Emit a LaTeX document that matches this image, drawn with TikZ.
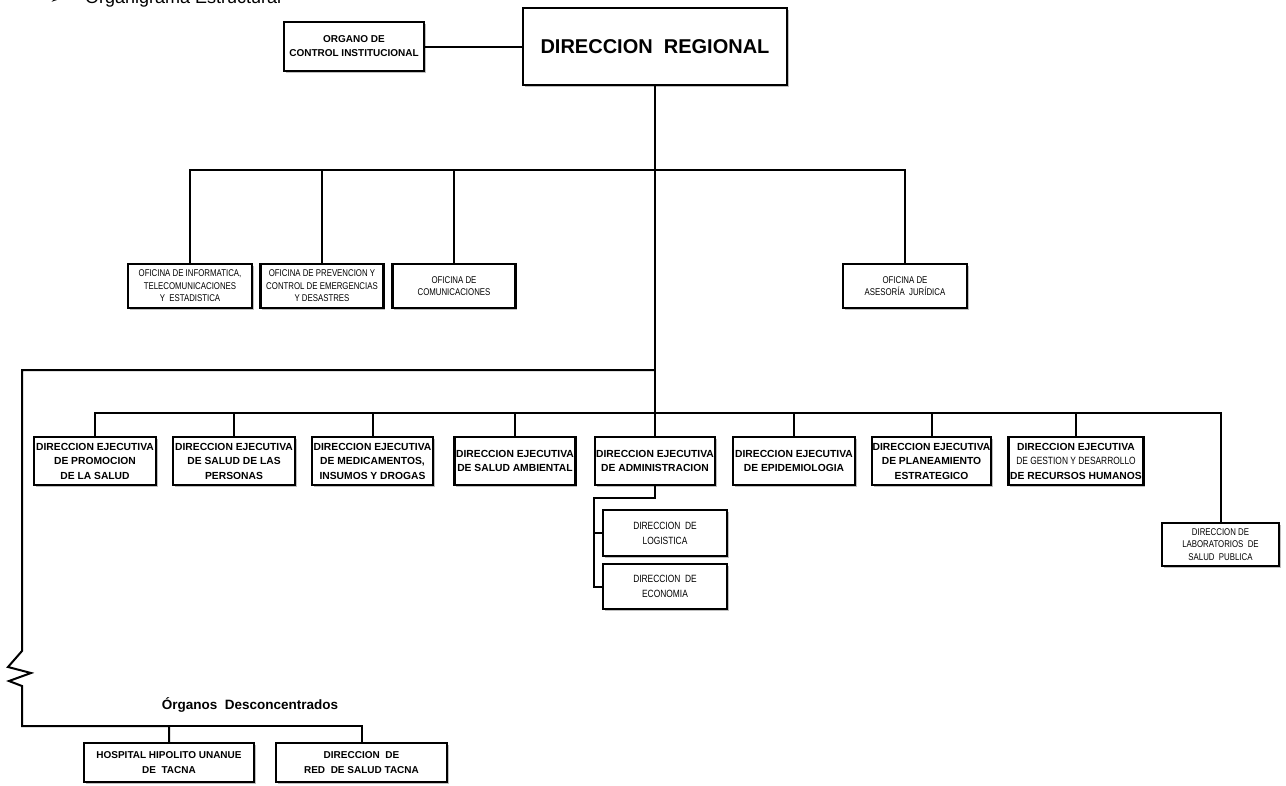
\documentclass[tikz,border=0pt]{standalone}
\usepackage{fontspec}
\usetikzlibrary{shadows}
\setmainfont{Liberation Sans}
\newfontfamily\narrow[FakeStretch=0.8]{Liberation Sans}
\newfontfamily\symf{DejaVu Sans}
\begin{document}
\begin{tikzpicture}[x=1pt,y=-1pt,
  box/.style={draw, line width=2.4pt, inner sep=0pt, align=center, fill=white,
    drop shadow={shadow xshift=1.5pt, shadow yshift=-1.5pt, fill=black, opacity=0.25}},
  conn/.style={line width=2pt},
  bt/.style={font=\bfseries\fontsize{10.3}{14.5}\selectfont},
  nt/.style={font=\narrow\fontsize{9.8}{12.5}\selectfont},
  lbl/.style={inner sep=0pt}]
\useasboundingbox (0,0) rectangle (1286,785);
% title (clipped at top, as in the source page)
\node[lbl, anchor=base west, font=\symf\fontsize{12}{12}\selectfont] (bul) at (50,3) {➢};
\node[lbl, anchor=base west, font=\fontsize{18}{18}\selectfont] (ttl) at (85,3) {Organigrama Estructural};
% top level
\node[box, minimum width=264pt, minimum height=77pt, font=\bfseries\fontsize{20}{20}\selectfont] (DR) at (655,46.5) {DIRECCION~ REGIONAL};
\node[box, font=\bfseries\fontsize{10}{14}\selectfont, minimum width=140pt, minimum height=49pt] (OCI) at (354,46.5) {ORGANO DE\\CONTROL INSTITUCIONAL};
% row 2
\node[box, nt, minimum width=124pt, minimum height=44pt] (inf) at (190,286) {OFICINA DE INFORMATICA,\\TELECOMUNICACIONES\\Y~ ESTADISTICA};
\node[box, nt, minimum width=123pt, minimum height=44pt] (prev) at (322,286) {OFICINA DE PREVENCION Y\\CONTROL DE EMERGENCIAS\\Y DESASTRES};
\node[box, nt, minimum width=123pt, minimum height=44pt] (com) at (454,286) {OFICINA DE\\COMUNICACIONES};
\node[box, nt, minimum width=124pt, minimum height=44pt] (ase) at (905,286) {OFICINA DE\\ASESOR\'IA~ JUR\'IDICA};
% row 3
\node[box, bt, minimum width=122pt, minimum height=48pt] (b1) at (95,461) {DIRECCION EJECUTIVA\\DE PROMOCION\\DE LA SALUD};
\node[box, bt, minimum width=122pt, minimum height=48pt] (b2) at (234,461) {DIRECCION EJECUTIVA\\DE SALUD DE LAS\\PERSONAS};
\node[box, bt, minimum width=121pt, minimum height=48pt] (b3) at (372.5,461) {DIRECCION EJECUTIVA\\DE MEDICAMENTOS,\\INSUMOS Y DROGAS};
\node[box, bt, minimum width=121pt, minimum height=48pt] (b4) at (515,461) {DIRECCION EJECUTIVA\\DE SALUD AMBIENTAL};
\node[box, bt, minimum width=120pt, minimum height=48pt] (b5) at (655,461) {DIRECCION EJECUTIVA\\DE ADMINISTRACION};
\node[box, bt, minimum width=122pt, minimum height=48pt] (b6) at (794,461) {DIRECCION EJECUTIVA\\DE EPIDEMIOLOGIA};
\node[box, bt, minimum width=119pt, minimum height=48pt] (b7) at (931.5,461) {DIRECCION EJECUTIVA\\DE PLANEAMIENTO\\ESTRATEGICO};
\node[box, bt, minimum width=135pt, minimum height=48pt] (b8) at (1076,461) {DIRECCION EJECUTIVA\\{\narrow\mdseries\fontsize{10.5}{14.5}\selectfont DE GESTION Y DESARROLLO}\\DE RECURSOS HUMANOS};
\node[box, nt, minimum width=117pt, minimum height=43pt] (lab) at (1220.5,544.5) {DIRECCION DE\\LABORATORIOS~ DE\\SALUD~ PUBLICA};
% administration subs
\node[box, font=\narrow\fontsize{10.5}{15}\selectfont, minimum width=124pt, minimum height=46pt] (log) at (665,533) {DIRECCION~ DE\\LOGISTICA};
\node[box, font=\narrow\fontsize{10.5}{15}\selectfont, minimum width=124pt, minimum height=45pt] (eco) at (665,586.5) {DIRECCION~ DE\\ECONOMIA};
% desconcentrados
\node[lbl, font=\bfseries\fontsize{13.5}{13.5}\selectfont] (od) at (250,705) {Órganos~ Desconcentrados};
\node[box, font=\bfseries\fontsize{10}{15}\selectfont, minimum width=170pt, minimum height=39pt] (hhu) at (169,762.5) {HOSPITAL HIPOLITO UNANUE\\DE~ TACNA};
\node[box, font=\bfseries\fontsize{10}{15}\selectfont, minimum width=171pt, minimum height=39pt] (drs) at (361.5,762.5) {DIRECCION~ DE\\RED~ DE SALUD TACNA};
% junction coordinates
\coordinate (j2) at (655,170);
\coordinate (jL) at (655,370);
\coordinate (j3) at (655,413);
\coordinate (L1) at (22,370);
\coordinate (z0) at (22,651);
\coordinate (z5) at (22,686);
\coordinate (L2) at (22,726);
\coordinate (a2) at (594,498);
% connectors
\draw[conn] (OCI.east) -- (OCI.east -| DR.west);
\draw[conn] (DR.south) -- (j3);
\draw[conn] (inf.north) -- (inf.north |- j2) -- (ase.north |- j2) -- (ase.north);
\draw[conn] (prev.north) -- (prev.north |- j2);
\draw[conn] (com.north) -- (com.north |- j2);
\draw[conn] (b1.north) -- (b1.north |- j3) -- (lab.north |- j3) -- (lab.north);
\foreach \n in {b2,b3,b4,b5,b6,b7,b8} \draw[conn] (\n.north) -- (\n.north |- j3);
\draw[conn] (b5.south) |- (a2) -- (a2 |- eco.west) -- (eco.west);
\draw[conn] (a2 |- log.west) -- (log.west);
\draw[conn, line join=miter] (jL) -- (L1) -- (z0) -- ++(-14,16) -- ++(23,6) -- ++(-22,8) -- (z5) -- (L2) -| (hhu.north);
\draw[conn] (L2) -| (drs.north);
\end{tikzpicture}
\end{document}
